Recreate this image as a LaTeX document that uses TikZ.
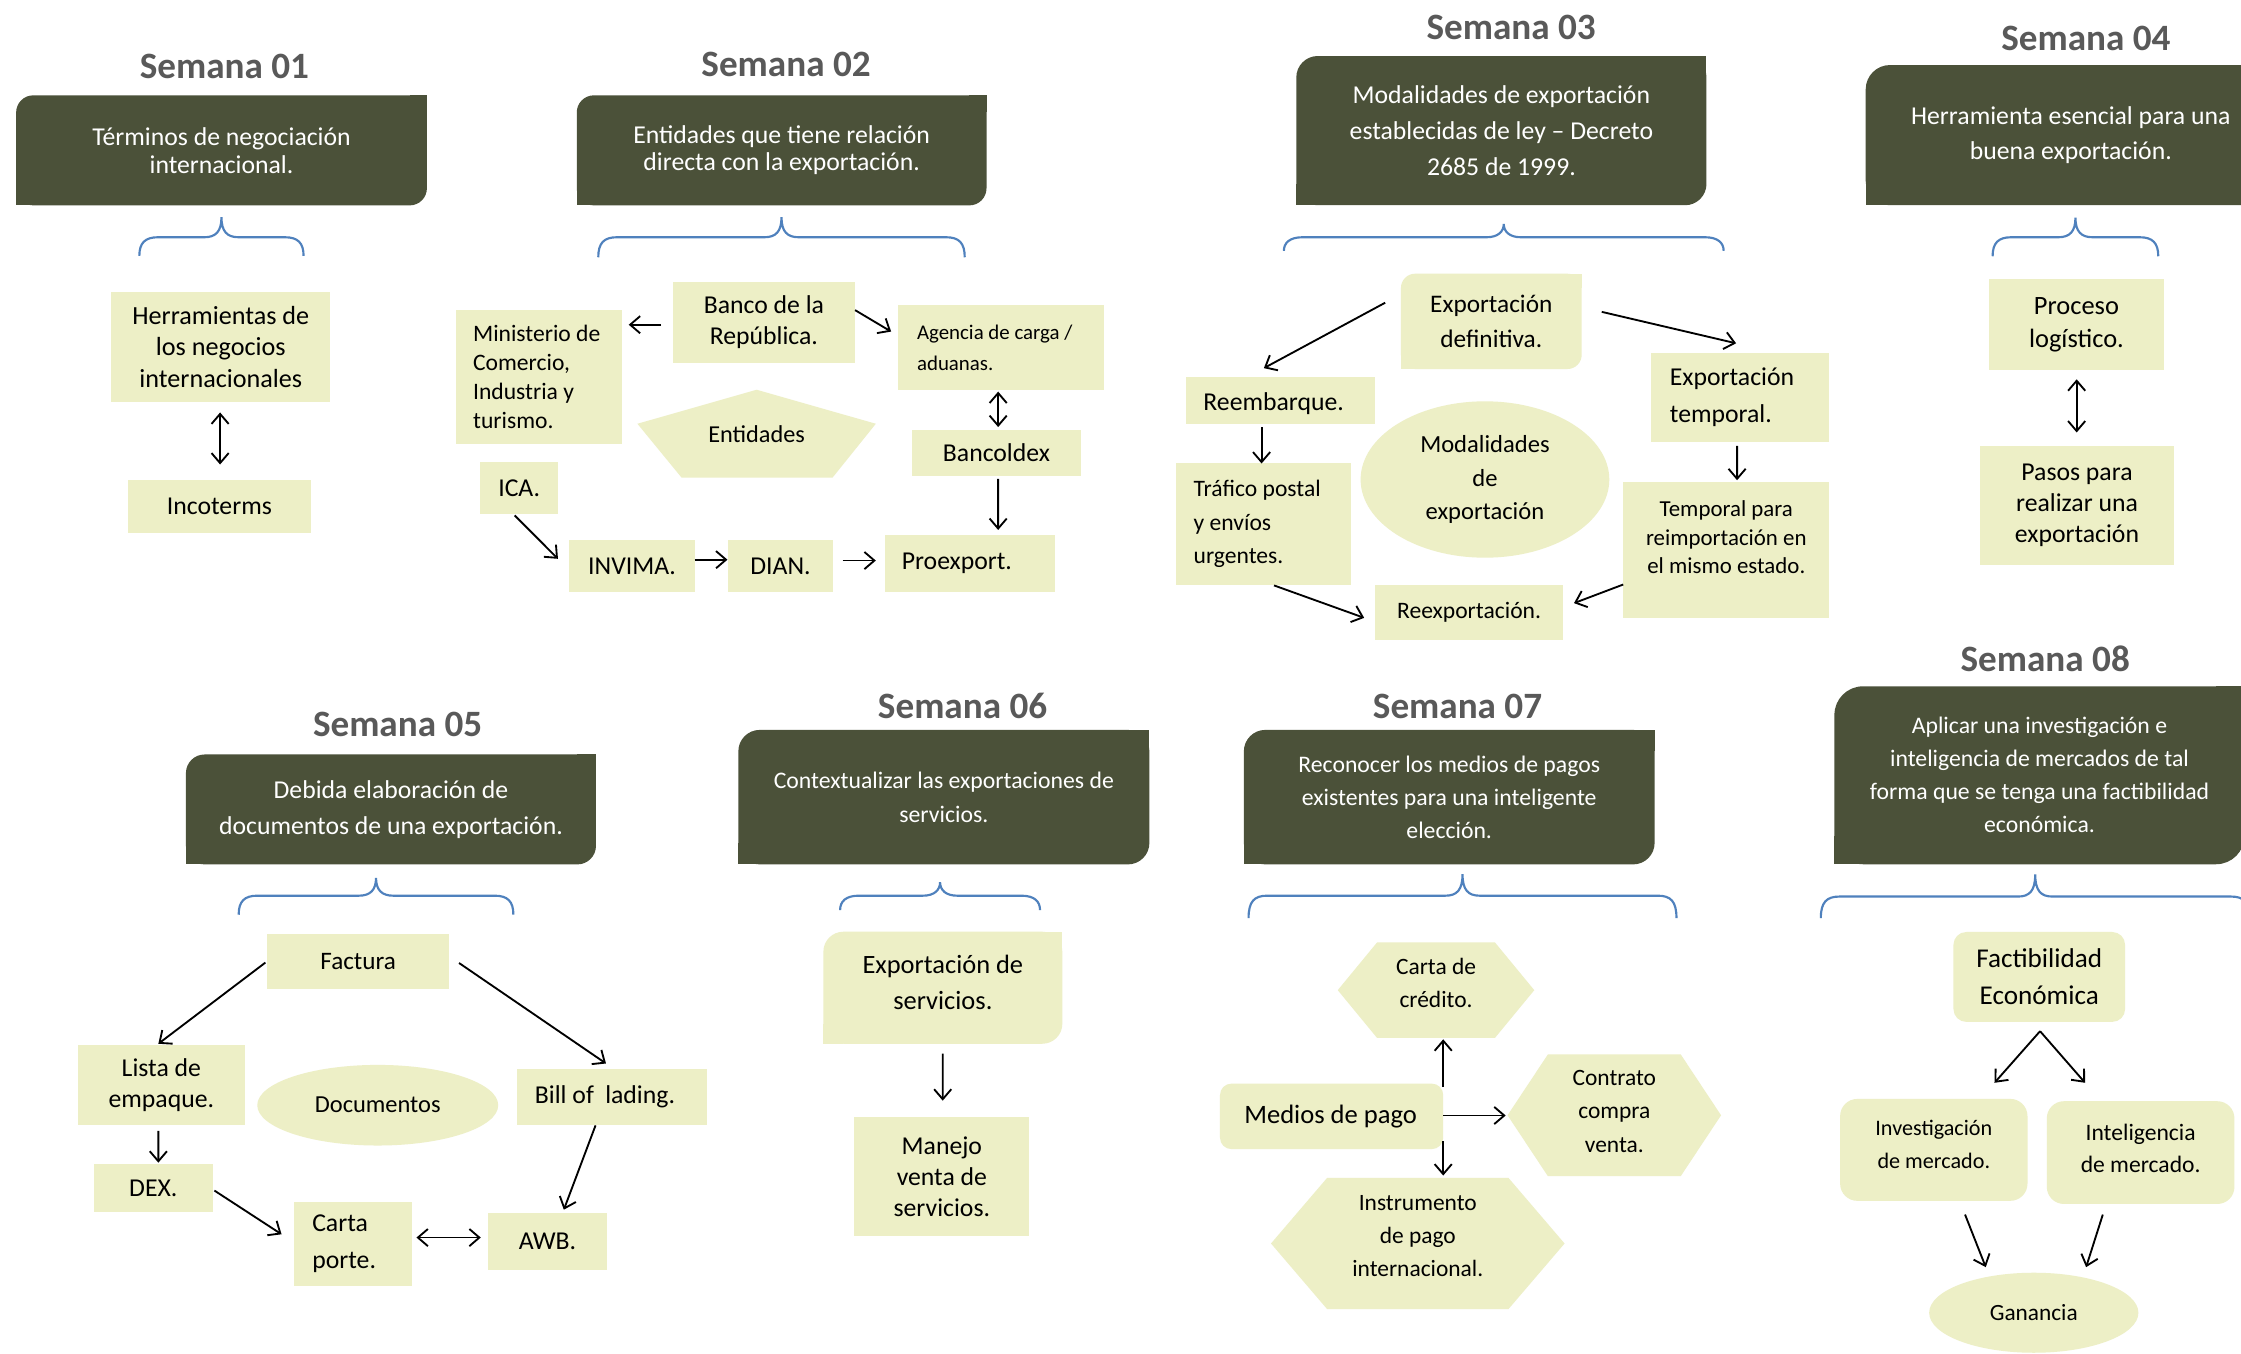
\documentclass[tikz,border=0pt]{standalone}
\usepackage{fontspec}
\setmainfont{Carlito}
\usetikzlibrary{arrows.meta,shapes.geometric,backgrounds}
\definecolor{darkc}{RGB}{75,81,57}
\definecolor{lightc}{RGB}{237,239,198}
\definecolor{titlec}{RGB}{89,89,89}
\definecolor{bracec}{RGB}{79,129,189}
\newcommand\fs[2]{\fontsize{#1}{#2}\selectfont}
\newcommand\lift[1]{\rule[-#1pt]{0pt}{0pt}}
\newcommand\roundTLBR[3]{%
  \begin{scope}[on background layer]
    \fill[#2, rounded corners=#3pt] (#1.south west) rectangle (#1.north east);
    \fill[#2] (#1.north east) rectangle ([xshift=-#3pt,yshift=-#3pt]#1.north east);
    \fill[#2] (#1.south west) rectangle ([xshift=#3pt,yshift=#3pt]#1.south west);
  \end{scope}}
\newcommand\hexa[2]{%
  \begin{scope}[on background layer]
    \fill[lightc] (#1.west) -- ([xshift=#2pt]#1.north west) -- ([xshift=-#2pt]#1.north east) -- (#1.east) -- ([xshift=-#2pt]#1.south east) -- ([xshift=#2pt]#1.south west) -- cycle;
  \end{scope}}
\newcommand\brc[5]{%
  \draw[bracestyle] (#1,#5) .. controls (#1,{#4+4}) and ({#1+4},#4) .. ({#1+13},#4)
    -- ({(#1+#2)/2-12},#4) .. controls ({(#1+#2)/2-4},#4) and ({(#1+#2)/2},{#4-4}) .. ({(#1+#2)/2},#3)
    .. controls ({(#1+#2)/2},{#4-4}) and ({(#1+#2)/2+4},#4) .. ({(#1+#2)/2+12},#4)
    -- ({#2-13},#4) .. controls ({#2-4},#4) and (#2,{#4+4}) .. (#2,#5);}
\tikzset{
  ttl/.style={font=\fs{26}{30}\bfseries, text=titlec, anchor=base, inner sep=0pt},
  dbox/.style={text=white, align=center, inner sep=0pt, outer sep=0pt},
  lbox/.style={fill=lightc, align=center, inner sep=0pt, outer sep=0pt, text=black},
  ltxt/.style={anchor=west, align=left, inner sep=0pt, outer sep=0pt, text=black},
  plainbox/.style={align=center, inner sep=0pt, outer sep=0pt, text=black},
  rbox/.style={lbox, rounded corners=#1},
  ell/.style={ellipse, fill=lightc, align=center, inner sep=0pt, outer sep=0pt, text=black},
  arr/.style={-{Straight Barb[length=7pt,width=12pt]}, line width=1.3pt},
  darr/.style={{Straight Barb[length=7pt,width=12pt]}-{Straight Barb[length=7pt,width=12pt]}, line width=1.3pt},
  bracestyle/.style={draw=bracec, line width=1.5pt},
}
\begin{document}
\begin{tikzpicture}[x=1pt,y=-1pt]
\useasboundingbox (0,0) rectangle (1568,947);
\begin{scope}[on background layer]
  \fill[white] (0,0) rectangle (1568,947);
\end{scope}

% ---------------- Semana 01
\node[ttl] (t1) at (157,55) {Semana 01};
\node[dbox, minimum width=287.4pt, minimum height=77pt, font=\fs{18}{19.5}] (d1) at (155,105.2) {Términos de negociación\\internacional.};
\roundTLBR{d1}{darkc}{12}
\brc{97.5}{212.4}{152}{166}{179}
\node[lbox, minimum width=153pt, minimum height=76.5pt, font=\fs{18.3}{22}] (herr) at (154.5,242.75) {Herramientas de\\los negocios\\internacionales};
\node[lbox, minimum width=128pt, minimum height=36.8pt, font=\fs{18}{22}] (inco) at (153.5,354.4) {Incoterms};
\draw[darr] ([shift={(-0.5,45.85)}]herr.center) -- ([shift={(0.5,-29.4)}]inco.center);

% ---------------- Semana 02
\node[ttl] (t2) at (550,53.7) {Semana 02};
\node[dbox, minimum width=286.7pt, minimum height=77pt, font=\fs{18}{19}] (d2) at (546.9,105.2) {Entidades que tiene relación\\directa con la exportación.};
\roundTLBR{d2}{darkc}{12}
\brc{418.6}{675}{152}{166}{180}
\node[lbox, minimum width=127.5pt, minimum height=56.5pt, font=\fs{18}{21.7}] (ban) at (534.5,225.5) {Banco de la\\República.};
\node[lbox, minimum width=116.3pt, minimum height=93.4pt] (min) at (377.2,263.7) {};
\node[ltxt, font=\fs{16.5}{20.3}] (minT) at ([xshift=12pt]min.west) {Ministerio de\\Comercio,\\Industria y\\turismo.};
\node[lbox, minimum width=143.5pt, minimum height=58.9pt] (age) at (700.4,243.2) {};
\node[ltxt, font=\fs{14.6}{21.8}] (ageT) at ([xshift=13pt]age.west) {Agencia de carga /\\aduanas.};
\node[plainbox, minimum width=166.8pt, minimum height=61.5pt, font=\fs{17}{20}] (ent) at (529.4,303.45) {Entidades};
\begin{scope}[on background layer]
  \fill[lightc] (ent.north) -- ([yshift=6.95pt]ent.east) -- ([xshift=-30.3pt]ent.south east) -- ([xshift=30.9pt]ent.south west) -- ([yshift=6.95pt]ent.west) -- cycle;
\end{scope}
\node[lbox, minimum width=118.4pt, minimum height=31.8pt, font=\fs{18}{20}] (bcx) at (697.2,316.9) {Bancoldex};
\node[lbox, minimum width=119.2pt, minimum height=40.3pt] (pro) at (678.6,394.2) {};
\node[ltxt, font=\fs{18}{20}] (proT) at ([xshift=12pt]pro.west) {Proexport.};
\node[lbox, minimum width=54.3pt, minimum height=36.2pt, font=\fs{18}{20}] (ica) at (363.25,341.6) {ICA.};
\node[lbox, minimum width=87.7pt, minimum height=36.3pt, font=\fs{18}{20}] (inv) at (442.2,396.2) {INVIMA.};
\node[lbox, minimum width=72.8pt, minimum height=36.3pt, font=\fs{18}{20}] (dian) at (546.1,396.2) {DIAN.};
\draw[arr] ([shift={(-71.9,1.7)}]ban.center) -- ([shift={(62.7,-36.5)}]min.center);
\draw[arr] ([shift={(63.8,-8.5)}]ban.center) -- ([shift={(-76.9,-11.2)}]age.center);
\draw[darr] ([shift={(-2,30.8)}]age.center) -- ([shift={(1.2,-18.1)}]bcx.center);
\draw[arr] ([shift={(1.2,18.1)}]bcx.center) -- ([shift={(19.8,-23.4)}]pro.center);
\draw[arr] ([shift={(-3.15,19)}]ica.center) -- ([shift={(-51.8,-5.2)}]inv.center);
\draw[arr] ([shift={(43.8,-4.6)}]inv.center) -- ([shift={(-37.1,-4.6)}]dian.center);
\draw[arr] ([shift={(43.4,-4)}]dian.center) -- ([shift={(-65.8,-2)}]pro.center);

% ---------------- Semana 03
\node[ttl] (t3) at (1057.3,27.6) {Semana 03};
\node[dbox, minimum width=287pt, minimum height=104.4pt, font=\fs{18}{25}] (d3) at (1050.5,91.4) {Modalidades de exportación\\establecidas de ley – Decreto\\2685 de 1999.};
\roundTLBR{d3}{darkc}{15}
\brc{898.3}{1206}{156.7}{166}{175.5}
\node[plainbox, minimum width=126.5pt, minimum height=66.7pt, font=\fs{17.7}{24.7}] (edf) at (1043.45,224.85) {Exportación\\definitiva.};
\roundTLBR{edf}{lightc}{10}
\node[lbox, minimum width=132.8pt, minimum height=32.5pt] (ree) at (896,280.25) {};
\node[ltxt, font=\fs{18}{20}] (reeT) at ([xshift=12.4pt,yshift=-2pt]ree.west) {Reembarque.};
\node[lbox, minimum width=122.5pt, minimum height=84.7pt] (tra) at (883.95,366.65) {};
\node[ltxt, font=\fs{16.5}{23.5}] (traT) at ([xshift=12.5pt]tra.west) {Tráfico postal\\y envíos\\urgentes.};
\node[ell, minimum width=174pt, minimum height=109.4pt, font=\fs{17.2}{23.5}] (mod) at (1039,335.5) {Modalidades\\de\\exportación};
\node[lbox, minimum width=124.6pt, minimum height=61.8pt] (etp) at (1217.7,278.1) {};
\node[ltxt, font=\fs{18}{26}] (etpT) at ([xshift=13pt]etp.west) {Exportación\\temporal.};
\node[lbox, minimum width=144.3pt, minimum height=94.9pt, font=\fs{16}{20}] (tpr) at (1207.85,384.85) {Temporal para\\reimportación en\\el mismo estado.\lift{18}};
\node[lbox, minimum width=131.2pt, minimum height=38pt, font=\fs{16.5}{20}] (rex) at (1027.9,428.6) {Reexportación.};
\draw[arr] ([shift={(-74.25,-13.05)}]edf.center) -- ([shift={(-11.7,-22.65)}]ree.center);
\draw[arr] ([shift={(77.25,-6.65)}]edf.center) -- ([shift={(-3,-37.9)}]etp.center);
\draw[arr] ([shift={(-13.3,18.55)}]ree.center) -- ([shift={(-1.25,-42.35)}]tra.center);
\draw[arr] ([shift={(-2.3,33.8)}]etp.center) -- ([shift={(7.55,-48.85)}]tpr.center);
\draw[arr] ([shift={(-72.15,24.15)}]tpr.center) -- ([shift={(73.4,-6.6)}]rex.center);
\draw[arr] ([shift={(7.45,42.95)}]tra.center) -- ([shift={(-73.4,3.7)}]rex.center);

% ---------------- Semana 04
\node[ttl] (t4) at (1459.5,35.4) {Semana 04};
\node[dbox, minimum width=287pt, minimum height=98.1pt, font=\fs{18}{24.6}] (d4) at (1448.9,94.55) {Herramienta esencial para una\\buena exportación.};
\roundTLBR{d4}{darkc}{17}
\brc{1394.2}{1510.1}{152.3}{166}{179.3}
\node[lbox, minimum width=122.5pt, minimum height=63.8pt, font=\fs{18.5}{23.2}] (plo) at (1452.85,227.1) {Proceso\\logístico.};
\node[lbox, minimum width=135.7pt, minimum height=82.7pt, font=\fs{18}{21.8}] (pas) at (1453.25,353.75) {Pasos para\\realizar una\\exportación};
\draw[darr] ([shift={(0.15,38.3)}]plo.center) -- ([shift={(-0.25,-51.15)}]pas.center);

% ---------------- Semana 05
\node[ttl] (t5) at (278.2,515) {Semana 05};
\node[dbox, minimum width=286.9pt, minimum height=76.9pt, font=\fs{18}{25.1}] (d5) at (273.55,566.35) {Debida elaboración de\\documentos de una exportación.};
\roundTLBR{d5}{darkc}{13}
\brc{167}{359.2}{614.2}{626.7}{640}
\node[lbox, minimum width=127.2pt, minimum height=38.3pt, font=\fs{17.6}{20}] (fac) at (250.6,672.55) {Factura};
\node[lbox, minimum width=116.6pt, minimum height=55.3pt, font=\fs{18}{22}] (lis) at (112.9,759.15) {Lista de\\empaque.};
\node[ell, minimum width=168.6pt, minimum height=56.4pt, font=\fs{17.1}{20}] (doc) at (264.3,773.3) {Documentos};
\node[lbox, minimum width=133.3pt, minimum height=38.6pt] (bil) at (428.05,767.5) {};
\node[ltxt, font=\fs{18}{20}] (bilT) at ([xshift=12.9pt]bil.west) {Bill of\hspace{8pt}lading.};
\node[lbox, minimum width=82.8pt, minimum height=33pt, font=\fs{18}{20}] (dex) at (107.3,831.2) {DEX.};
\node[lbox, minimum width=82.9pt, minimum height=59pt] (car) at (247.05,870.2) {};
\node[ltxt, font=\fs{18}{26}] (carT) at ([xshift=12.9pt]car.west) {Carta\\porte.};
\node[lbox, minimum width=83.8pt, minimum height=40.1pt, font=\fs{18}{20}] (awb) at (383.1,868.65) {AWB.};
\draw[arr] ([shift={(-64.9,0.95)}]fac.center) -- ([shift={(-2.1,-28.85)}]lis.center);
\draw[arr] ([shift={(70.6,1.25)}]fac.center) -- ([shift={(-4.05,-23.4)}]bil.center);
\draw[arr] ([shift={(-2.1,32.05)}]lis.center) -- ([shift={(3.5,-17.7)}]dex.center);
\draw[arr] ([shift={(42.7,1.8)}]dex.center) -- ([shift={(-50.05,-6.6)}]car.center);
\draw[arr] ([shift={(-11.35,19.9)}]bil.center) -- ([shift={(11.4,-22.25)}]awb.center);
\draw[darr] ([shift={(44.35,-4.3)}]car.center) -- ([shift={(-46.7,-2.75)}]awb.center);

% ---------------- Semana 06
\node[ttl] (t6) at (673.5,502.5) {Semana 06};
\node[dbox, minimum width=287.6pt, minimum height=94.1pt, font=\fs{16.6}{23.5}] (d6) at (660.4,557.75) {Contextualizar las exportaciones de\\servicios.};
\roundTLBR{d6}{darkc}{15}
\brc{587.8}{727.7}{617.3}{626.7}{636.8}
\node[plainbox, minimum width=167.2pt, minimum height=78.4pt, font=\fs{18.5}{25.2}] (eds) at (659.7,691.1) {Exportación de\\servicios.\lift{8}};
\roundTLBR{eds}{lightc}{14}
\node[lbox, minimum width=122.4pt, minimum height=83.1pt, font=\fs{18}{22}] (man) at (659,823.35) {Manejo\\venta de\\servicios.};
\draw[arr] ([shift={(-0.1,46.1)}]eds.center) -- ([shift={(0.6,-53.25)}]man.center);

% ---------------- Semana 07
\node[ttl] (t7) at (1019.8,502.5) {Semana 07};
\node[dbox, minimum width=287.4pt, minimum height=94.1pt, font=\fs{16.6}{23}] (d7) at (1014,557.75) {Reconocer los medios de pagos\\existentes para una inteligente\\elección.};
\roundTLBR{d7}{darkc}{15}
\brc{873.6}{1173}{611.7}{626.7}{642.4}
\node[plainbox, minimum width=137.5pt, minimum height=66.8pt, font=\fs{16.4}{23.5}] (ccr) at (1004.75,692.8) {Carta de\\crédito.\lift{10}};
\hexa{ccr}{27.5}
\node[rbox=8pt, minimum width=156.2pt, minimum height=45.8pt] (mdp) at (931.7,781.1) {};
\node[ltxt, font=\fs{18.6}{20}] (mdpT) at ([xshift=17pt]mdp.west) {Medios de pago};
\node[plainbox, minimum width=149.4pt, minimum height=85.1pt, font=\fs{16.4}{23.5}] (cco) at (1129.5,780.35) {Contrato\\compra\\venta.\lift{6}};
\hexa{cco}{28.2}
\node[plainbox, minimum width=205.4pt, minimum height=91.9pt, font=\fs{16.4}{23}] (ins) at (992,870.05) {Instrumento\\de pago\\internacional.\lift{10}};
\hexa{ins}{39.3}
\draw[arr] ([shift={(78.1,-20.4)}]mdp.center) -- ([shift={(5.05,34.4)}]ccr.center);
\draw[arr] ([shift={(78.1,-0.6)}]mdp.center) -- ([shift={(-76,0.15)}]cco.center);
\draw[arr] ([shift={(78.1,17.3)}]mdp.center) -- ([shift={(17.8,-47.55)}]ins.center);

% ---------------- Semana 08
\node[ttl] (t8) at (1431,469.8) {Semana 08};
\node[dbox, minimum width=287pt, minimum height=124.5pt, font=\fs{16.6}{23.1}] (d8) at (1427,542.45) {Aplicar una investigación e\\inteligencia de mercados de tal\\forma que se tenga una factibilidad\\económica.};
\roundTLBR{d8}{darkc}{20}
\brc{1274}{1574}{611.8}{627.3}{642.4}
\node[rbox=9pt, minimum width=120.1pt, minimum height=62.9pt, font=\fs{19}{25.8}] (feco) at (1426.85,683.55) {Factibilidad\\Económica};
\node[rbox=12pt, minimum width=131.1pt, minimum height=71.3pt, font=\fs{15.5}{23}] (ivm) at (1353.05,804.55) {Investigación\\de mercado.\lift{8}};
\node[rbox=12pt, minimum width=131.3pt, minimum height=71.9pt, font=\fs{16.5}{23}] (itm) at (1497.75,806.45) {Inteligencia\\de mercado.\lift{6}};
\node[ell, minimum width=146.4pt, minimum height=56pt, font=\fs{16.3}{20}] (gan) at (1423,918.5) {Ganancia};
\draw[arr] ([shift={(0.55,37.95)}]feco.center) -- ([shift={(42.45,-46.95)}]ivm.center);
\draw[arr] ([shift={(0.55,37.95)}]feco.center) -- ([shift={(-38.85,-48.85)}]itm.center);
\draw[arr] ([shift={(21.85,45.25)}]ivm.center) -- ([shift={(-33.6,-31.9)}]gan.center);
\draw[arr] ([shift={(-26.45,43.35)}]itm.center) -- ([shift={(36.6,-31.9)}]gan.center);
\end{tikzpicture}
\end{document}
